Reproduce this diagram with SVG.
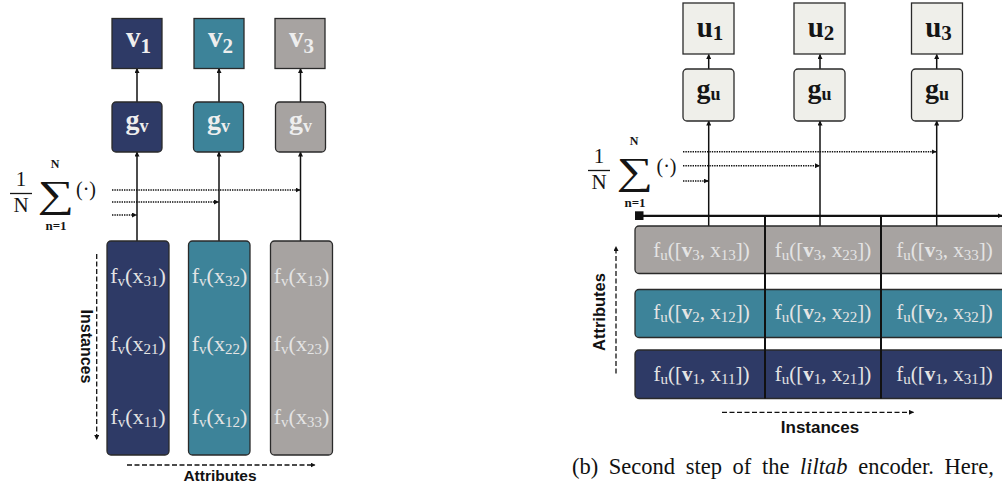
<svg xmlns="http://www.w3.org/2000/svg" width="1002" height="487" viewBox="0 0 1002 487">
  <defs>
    <marker id="ah" viewBox="0 0 10 10" refX="9" refY="5" markerWidth="5" markerHeight="5" markerUnits="userSpaceOnUse" orient="auto">
      <path d="M0,0 L10,5 L0,10 z" fill="#111"/>
    </marker>
    <marker id="sq" viewBox="0 0 10 10" refX="5" refY="5" markerWidth="9" markerHeight="9" markerUnits="userSpaceOnUse" orient="auto">
      <rect x="0" y="0" width="10" height="10" fill="#111"/>
    </marker>
  </defs>
  <style>
    .navy { fill: #2e3a66; }
    .teal { fill: #3d8399; }
    .grey { fill: #a7a3a1; }
    .pale { fill: #efefea; }
    .box { stroke: #2a2a2a; stroke-width: 1.3; }
    .m { font-family: "Liberation Serif", "DejaVu Serif", serif; }
    .mb { font-family: "Liberation Serif", "DejaVu Serif", serif; font-weight: bold; }
    .lt { fill: #eeeeee; }
    .dk { fill: #151515; }
    .cell { font-family: "Liberation Serif", "DejaVu Serif", serif; fill: #e4e4e4; text-anchor: middle; }
    .cv { font-size: 22px; }
    .cu { font-size: 21px; }
    .axis { font-family: "Liberation Sans", Arial, sans-serif; font-weight: bold; fill: #111; text-anchor: middle; }
    .wire { stroke: #111; stroke-width: 1.5; fill: none; }
    .dot { stroke: #111; stroke-width: 1.5; stroke-dasharray: 1.4 1; fill: none; }
    .dash { stroke: #111; stroke-width: 1.3; stroke-dasharray: 5 2.5; fill: none; }
    .sep { stroke: #111; stroke-width: 2; }
  </style>

  <!-- ===== Panel (a): column-wise encoding ===== -->
  <g id="left-connectors">
    <line class="wire" x1="137" y1="241" x2="137" y2="152" marker-end="url(#ah)"/>
    <line class="wire" x1="219" y1="241" x2="219" y2="152" marker-end="url(#ah)"/>
    <line class="wire" x1="300.5" y1="241" x2="300.5" y2="152" marker-end="url(#ah)"/>
    <line class="wire" x1="137" y1="102" x2="137" y2="68.5" marker-end="url(#ah)"/>
    <line class="wire" x1="219" y1="102" x2="219" y2="68.5" marker-end="url(#ah)"/>
    <line class="wire" x1="300.5" y1="102" x2="300.5" y2="68.5" marker-end="url(#ah)"/>
    <line class="dot" x1="112" y1="190" x2="300" y2="190" marker-end="url(#ah)"/>
    <line class="dot" x1="112" y1="202" x2="218.5" y2="202" marker-end="url(#ah)"/>
    <line class="dot" x1="112" y1="215" x2="136.5" y2="215" marker-end="url(#ah)"/>
    <line class="dash" x1="96.7" y1="254" x2="96.7" y2="439.5" marker-end="url(#ah)"/>
    <line class="dash" x1="127" y1="465" x2="315" y2="465" marker-end="url(#ah)"/>
  </g>

  <g id="v1"><rect class="box navy" x="112" y="18.5" width="50" height="50"/>
    <text class="mb lt" x="138.5" y="47" font-size="29" text-anchor="middle">v<tspan font-size="21" dy="5.5">1</tspan></text></g>
  <g id="v2"><rect class="box teal" x="194" y="18.5" width="50" height="50"/>
    <text class="mb lt" x="220.5" y="47" font-size="29" text-anchor="middle">v<tspan font-size="21" dy="5.5">2</tspan></text></g>
  <g id="v3"><rect class="box grey" x="275" y="18.5" width="50" height="50"/>
    <text class="mb lt" x="301.5" y="47" font-size="29" text-anchor="middle">v<tspan font-size="21" dy="5.5">3</tspan></text></g>

  <g id="gv1"><rect class="box navy" x="112" y="102" width="50" height="50" rx="4"/>
    <text class="mb lt" x="137" y="129" font-size="28" text-anchor="middle">g<tspan font-size="18" dy="2.5">v</tspan></text></g>
  <g id="gv2"><rect class="box teal" x="193.5" y="102" width="50" height="50" rx="4"/>
    <text class="mb lt" x="218.5" y="129" font-size="28" text-anchor="middle">g<tspan font-size="18" dy="2.5">v</tspan></text></g>
  <g id="gv3"><rect class="box grey" x="275.5" y="102" width="50" height="50" rx="4"/>
    <text class="mb lt" x="300.5" y="129" font-size="28" text-anchor="middle">g<tspan font-size="18" dy="2.5">v</tspan></text></g>

  <g id="mean-left" class="m dk">
    <text x="21" y="186" font-size="21" text-anchor="middle">1</text>
    <line x1="10" y1="193.5" x2="32" y2="193.5" stroke="#151515" stroke-width="1.3"/>
    <text x="21" y="212" font-size="21" text-anchor="middle">N</text>
    <text font-size="38" text-anchor="middle" transform="translate(56,207) scale(1.35,1)">∑</text>
    <text x="55" y="167.5" font-size="12" font-weight="bold" text-anchor="middle">N</text>
    <text x="56" y="230" font-size="13" font-weight="bold" text-anchor="middle">n=1</text>
    <text x="86" y="196" font-size="20" text-anchor="middle">(·)</text>
  </g>

  <g id="col1"><rect class="box navy" x="107" y="241" width="62" height="214" rx="4"/>
    <text class="cell cv" x="138" y="283">f<tspan font-size="15" dy="3">v</tspan><tspan dy="-3">(x</tspan><tspan font-size="15" dy="3">31</tspan><tspan dy="-3">)</tspan></text>
    <text class="cell cv" x="138" y="351">f<tspan font-size="15" dy="3">v</tspan><tspan dy="-3">(x</tspan><tspan font-size="15" dy="3">21</tspan><tspan dy="-3">)</tspan></text>
    <text class="cell cv" x="138" y="424">f<tspan font-size="15" dy="3">v</tspan><tspan dy="-3">(x</tspan><tspan font-size="15" dy="3">11</tspan><tspan dy="-3">)</tspan></text></g>
  <g id="col2"><rect class="box teal" x="188.5" y="241" width="61.5" height="214" rx="4"/>
    <text class="cell cv" x="219.5" y="283">f<tspan font-size="15" dy="3">v</tspan><tspan dy="-3">(x</tspan><tspan font-size="15" dy="3">32</tspan><tspan dy="-3">)</tspan></text>
    <text class="cell cv" x="219.5" y="351">f<tspan font-size="15" dy="3">v</tspan><tspan dy="-3">(x</tspan><tspan font-size="15" dy="3">22</tspan><tspan dy="-3">)</tspan></text>
    <text class="cell cv" x="219.5" y="424">f<tspan font-size="15" dy="3">v</tspan><tspan dy="-3">(x</tspan><tspan font-size="15" dy="3">12</tspan><tspan dy="-3">)</tspan></text></g>
  <g id="col3"><rect class="box grey" x="270.5" y="241" width="62" height="214" rx="4"/>
    <text class="cell cv" x="301.5" y="283">f<tspan font-size="15" dy="3">v</tspan><tspan dy="-3">(x</tspan><tspan font-size="15" dy="3">13</tspan><tspan dy="-3">)</tspan></text>
    <text class="cell cv" x="301.5" y="351">f<tspan font-size="15" dy="3">v</tspan><tspan dy="-3">(x</tspan><tspan font-size="15" dy="3">23</tspan><tspan dy="-3">)</tspan></text>
    <text class="cell cv" x="301.5" y="424">f<tspan font-size="15" dy="3">v</tspan><tspan dy="-3">(x</tspan><tspan font-size="15" dy="3">33</tspan><tspan dy="-3">)</tspan></text></g>

  <text class="axis" font-size="16" transform="translate(80.5,346.5) rotate(90)">Instances</text>
  <text class="axis" font-size="15.5" x="220" y="480.5">Attributes</text>

  <!-- ===== Panel (b): instance-wise encoding ===== -->
  <g id="right-connectors">
    <line class="wire" x1="708.7" y1="226" x2="708.7" y2="121" marker-end="url(#ah)"/>
    <line class="wire" x1="820" y1="226" x2="820" y2="121" marker-end="url(#ah)"/>
    <line class="wire" x1="936.7" y1="226" x2="936.7" y2="121" marker-end="url(#ah)"/>
    <line class="wire" x1="708.7" y1="69" x2="708.7" y2="54.5" marker-end="url(#ah)"/>
    <line class="wire" x1="820" y1="69" x2="820" y2="54.5" marker-end="url(#ah)"/>
    <line class="wire" x1="936.7" y1="69" x2="936.7" y2="54.5" marker-end="url(#ah)"/>
    <line class="dot" x1="683" y1="151.7" x2="936" y2="151.7" marker-end="url(#ah)"/>
    <line class="dot" x1="683" y1="165.7" x2="819.5" y2="165.7" marker-end="url(#ah)"/>
    <line class="dot" x1="683" y1="181" x2="708.2" y2="181" marker-end="url(#ah)"/>
    <line stroke="#111" stroke-width="2.2" x1="639" y1="215.8" x2="1002" y2="215.8" marker-start="url(#sq)" marker-end="url(#ah)"/>
    <line class="dash" x1="616" y1="373.5" x2="616" y2="246.5" marker-end="url(#ah)"/>
    <line class="dash" x1="722" y1="412.3" x2="913.5" y2="412.3" marker-end="url(#ah)"/>
  </g>

  <g id="u1"><rect class="box pale" x="683" y="3" width="51" height="51"/>
    <text class="mb dk" x="710" y="37" font-size="29" text-anchor="middle">u<tspan font-size="21" dy="2.5">1</tspan></text></g>
  <g id="u2"><rect class="box pale" x="794" y="3" width="51" height="51"/>
    <text class="mb dk" x="821" y="37" font-size="29" text-anchor="middle">u<tspan font-size="21" dy="2.5">2</tspan></text></g>
  <g id="u3"><rect class="box pale" x="911.5" y="3" width="51" height="51"/>
    <text class="mb dk" x="938.5" y="37" font-size="29" text-anchor="middle">u<tspan font-size="21" dy="2.5">3</tspan></text></g>

  <g id="gu1"><rect class="box pale" x="683" y="69" width="51" height="52" rx="4"/>
    <text class="mb dk" x="708.5" y="98" font-size="28" text-anchor="middle">g<tspan font-size="18" dy="2">u</tspan></text></g>
  <g id="gu2"><rect class="box pale" x="794" y="69" width="51" height="52" rx="4"/>
    <text class="mb dk" x="819.5" y="98" font-size="28" text-anchor="middle">g<tspan font-size="18" dy="2">u</tspan></text></g>
  <g id="gu3"><rect class="box pale" x="911.5" y="69" width="51" height="52" rx="4"/>
    <text class="mb dk" x="937" y="98" font-size="28" text-anchor="middle">g<tspan font-size="18" dy="2">u</tspan></text></g>

  <g id="mean-right" class="m dk">
    <text x="599" y="163" font-size="21" text-anchor="middle">1</text>
    <line x1="588" y1="170.5" x2="610" y2="170.5" stroke="#151515" stroke-width="1.3"/>
    <text x="599" y="189" font-size="21" text-anchor="middle">N</text>
    <text font-size="38" text-anchor="middle" transform="translate(635,184) scale(1.35,1)">∑</text>
    <text x="634" y="144.5" font-size="12" font-weight="bold" text-anchor="middle">N</text>
    <text x="635" y="207" font-size="13" font-weight="bold" text-anchor="middle">n=1</text>
    <text x="666.5" y="173" font-size="20" text-anchor="middle">(·)</text>
  </g>

  <g id="row3"><rect class="box grey" x="635" y="226" width="380" height="47.5" rx="4"/>
    <text class="cell cu" x="701.5" y="257">f<tspan font-size="15" dy="3">u</tspan><tspan dy="-3">([</tspan><tspan font-weight="bold">v</tspan><tspan font-size="15" dy="3">3</tspan><tspan dy="-3">, x</tspan><tspan font-size="15" dy="3">13</tspan><tspan dy="-3">])</tspan></text>
    <text class="cell cu" x="823" y="257">f<tspan font-size="15" dy="3">u</tspan><tspan dy="-3">([</tspan><tspan font-weight="bold">v</tspan><tspan font-size="15" dy="3">3</tspan><tspan dy="-3">, x</tspan><tspan font-size="15" dy="3">23</tspan><tspan dy="-3">])</tspan></text>
    <text class="cell cu" x="944.5" y="257">f<tspan font-size="15" dy="3">u</tspan><tspan dy="-3">([</tspan><tspan font-weight="bold">v</tspan><tspan font-size="15" dy="3">3</tspan><tspan dy="-3">, x</tspan><tspan font-size="15" dy="3">33</tspan><tspan dy="-3">])</tspan></text></g>
  <g id="row2"><rect class="box teal" x="635" y="289.5" width="380" height="48" rx="4"/>
    <text class="cell cu" x="701.5" y="319">f<tspan font-size="15" dy="3">u</tspan><tspan dy="-3">([</tspan><tspan font-weight="bold">v</tspan><tspan font-size="15" dy="3">2</tspan><tspan dy="-3">, x</tspan><tspan font-size="15" dy="3">12</tspan><tspan dy="-3">])</tspan></text>
    <text class="cell cu" x="823" y="319">f<tspan font-size="15" dy="3">u</tspan><tspan dy="-3">([</tspan><tspan font-weight="bold">v</tspan><tspan font-size="15" dy="3">2</tspan><tspan dy="-3">, x</tspan><tspan font-size="15" dy="3">22</tspan><tspan dy="-3">])</tspan></text>
    <text class="cell cu" x="944.5" y="319">f<tspan font-size="15" dy="3">u</tspan><tspan dy="-3">([</tspan><tspan font-weight="bold">v</tspan><tspan font-size="15" dy="3">2</tspan><tspan dy="-3">, x</tspan><tspan font-size="15" dy="3">32</tspan><tspan dy="-3">])</tspan></text></g>
  <g id="row1"><rect class="box navy" x="635" y="350" width="380" height="48.5" rx="4"/>
    <text class="cell cu" x="701.5" y="380.5">f<tspan font-size="15" dy="3">u</tspan><tspan dy="-3">([</tspan><tspan font-weight="bold">v</tspan><tspan font-size="15" dy="3">1</tspan><tspan dy="-3">, x</tspan><tspan font-size="15" dy="3">11</tspan><tspan dy="-3">])</tspan></text>
    <text class="cell cu" x="823" y="380.5">f<tspan font-size="15" dy="3">u</tspan><tspan dy="-3">([</tspan><tspan font-weight="bold">v</tspan><tspan font-size="15" dy="3">1</tspan><tspan dy="-3">, x</tspan><tspan font-size="15" dy="3">21</tspan><tspan dy="-3">])</tspan></text>
    <text class="cell cu" x="944.5" y="380.5">f<tspan font-size="15" dy="3">u</tspan><tspan dy="-3">([</tspan><tspan font-weight="bold">v</tspan><tspan font-size="15" dy="3">1</tspan><tspan dy="-3">, x</tspan><tspan font-size="15" dy="3">31</tspan><tspan dy="-3">])</tspan></text></g>

  <!-- column separators run through all three rows -->
  <g id="separators">
    <line class="sep" x1="765" y1="215.8" x2="765" y2="398.5"/>
    <line class="sep" x1="881" y1="215.8" x2="881" y2="398.5"/>
  </g>

  <text class="axis" font-size="16.5" transform="translate(605,312) rotate(-90)">Attributes</text>
  <text class="axis" font-size="17" x="820" y="432.5">Instances</text>

  <text x="572" y="473.5" font-family="'Liberation Serif', 'Times New Roman', serif" font-size="22.5" word-spacing="5" fill="#111">(b) Second step of the <tspan font-style="italic">liltab</tspan> encoder. Here,</text>
</svg>
